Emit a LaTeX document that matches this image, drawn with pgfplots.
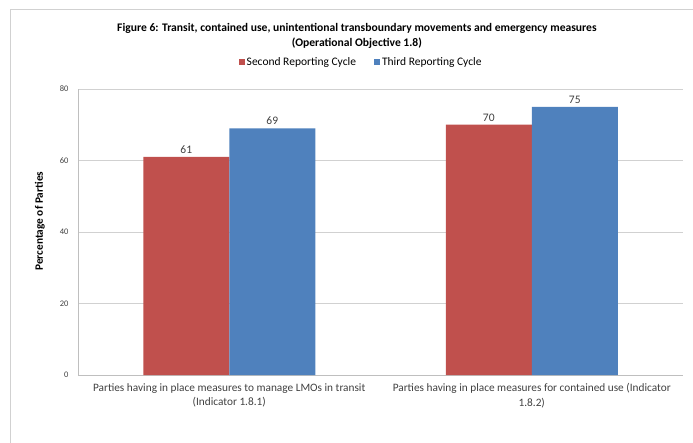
\documentclass[border=0pt]{standalone}
\usepackage{pgfplots}
\pgfplotsset{compat=1.18}
\usepackage{fontspec}
\setmainfont{Carlito}
\definecolor{xred}{HTML}{C0504D}
\definecolor{xblue}{HTML}{4F81BD}
\definecolor{txt}{HTML}{404040}
\begin{document}
\begin{tikzpicture}[x=1pt,y=1pt]
\path[use as bounding box] (0,0) rectangle (693,442);
\draw[black!18] (10,-5) -- (10,433) -- (700,433);
\begin{axis}[
  at={(78pt,67pt)}, anchor=south west,
  scale only axis, width=605pt, height=286pt,
  ybar=0pt, bar width=86pt,
  xmin=-0.5, xmax=1.5, ymin=0, ymax=80,
  xtick=data,
  xticklabels={{Parties having in place measures to manage LMOs in transit\\(Indicator 1.8.1)},{Parties having in place measures for contained use (Indicator\\1.8.2)}},
  xticklabel style={align=center, font=\fontsize{11.3}{14.5}\selectfont, text=txt, yshift=-5pt},
  ytick={0,20,40,60,80},
  yticklabel style={font=\fontsize{8.5}{10}\selectfont, text=txt, xshift=-6pt},
  /pgf/number format/assume math mode=true,
  major tick length=0pt,
  axis x line*=bottom, axis y line*=left,
  axis line style={black!25},
  ymajorgrids, grid style={black!18},
  every axis y label/.style={at={(axis description cs:-0.063,0.538)}, rotate=90, anchor=center},
  ylabel={\textbf{Percentage of Parties}},
  ylabel style={font=\fontsize{11.3}{12}\selectfont, text=black},
  title={\textbf{Figure 6: Transit, contained use, unintentional transboundary movements and emergency measures}\\\textbf{(Operational Objective 1.8)}},
  title style={at={(axis description cs:0.461,1.165)}, anchor=center, align=center, font=\fontsize{11.6}{14.5}\selectfont},
  legend style={at={(axis description cs:0.468,1.094)}, anchor=center, draw=none, legend columns=2, font=\fontsize{11.5}{12}\selectfont, /tikz/every even column/.append style={column sep=16pt}},
  legend image code/.code={\fill[#1] (0pt,-3pt) rectangle (6pt,3pt);},
  nodes near coords,
  every node near coord/.append style={font=\fontsize{11.5}{12}\selectfont, text=txt},
  clip=false,
]
\addplot[fill=xred, draw=none] coordinates {(0,61) (1,70)};
\addplot[fill=xblue, draw=none] coordinates {(0,69) (1,75)};
\legend{Second Reporting Cycle, Third Reporting Cycle}
\end{axis}
\end{tikzpicture}
\end{document}
